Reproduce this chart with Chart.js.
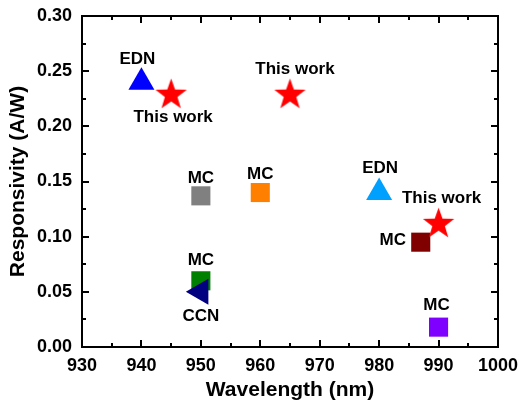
<!DOCTYPE html>
<html>
<head>
<meta charset="utf-8">
<script src="https://cdn.jsdelivr.net/npm/chart.js@4/dist/chart.umd.min.js"></script>
<style>
  html, body { margin: 0; padding: 0; background: #fff; }
  #wrap { width: 519px; height: 408px; }
</style>
</head>
<body>
<div id="wrap"><canvas id="c" width="519" height="408"></canvas></div>
<script>
// Responsivity of reported photodetectors versus operating wavelength
const wavelengths  = [950, 960, 987, 990, 950, 950, 940, 980, 945, 965, 990];
const responsivity = [0.137, 0.14, 0.095, 0.018, 0.06, 0.05, 0.24, 0.14, 0.23, 0.23, 0.113];
const pointLabels  = ['MC', 'MC', 'MC', 'MC', 'MC', 'CCN', 'EDN', 'EDN', 'This work', 'This work', 'This work'];
const xTickValues  = [930, 940, 950, 960, 970, 980, 990, 1000];
const yTickValues  = [0.00, 0.05, 0.10, 0.15, 0.20, 0.25, 0.30];

// Marker styling, one entry per point
const markerColors = ['#808080', '#FF8000', '#800000', '#8000FF', '#008000', '#000080',
                      '#0000FF', '#00A0FF', '#FF0000', '#FF0000', '#FF0000'];
const markerKinds  = ['rect', 'rect', 'rect', 'rect', 'rect', 'triangle',
                      'triangle', 'triangle', 'star', 'star', 'star'];
const markerTurn   = [0, 0, 0, 0, 0, 270, 0, 0, 0, 0, 0];
// Label offsets from the marker centre (px)
const labelShift   = [[0, -18], [0, -18], [-28, -2], [-2, -22], [0, -20], [0, 24],
                      [-4, -23], [1, -24], [2, 24], [5, -24], [3, -24]];

const FONT = '"Liberation Sans", Arial, Helvetica, sans-serif';

// Filled five-pointed star sprite
function makeStar(color, outer) {
  const inner = outer * 0.4;
  const size = Math.ceil(outer * 2 + 2);
  const cv = document.createElement('canvas');
  cv.width = size; cv.height = size;
  const g = cv.getContext('2d');
  const cx = size / 2, cy = size / 2 + outer * 0.1;
  g.beginPath();
  for (let i = 0; i < 10; i++) {
    const r = i % 2 === 0 ? outer : inner;
    const a = -Math.PI / 2 + i * Math.PI / 5;
    const px = cx + r * Math.cos(a), py = cy + r * Math.sin(a);
    if (i === 0) g.moveTo(px, py); else g.lineTo(px, py);
  }
  g.closePath();
  g.fillStyle = color;
  g.fill();
  return cv;
}

const starSprite = makeStar('#FF0000', 16.5);
const pointStyles = markerKinds.map(k => k === 'star' ? starSprite : k);
const pointRadii = markerKinds.map(k => k === 'rect' ? 13.5 : (k === 'triangle' ? 15 : 16));

// Closed frame with inward major/minor ticks on all four sides
const framePlugin = {
  id: 'frame',
  afterDatasetsDraw(chart) {
    const { ctx, chartArea: a, scales: { x, y } } = chart;
    ctx.save();
    ctx.strokeStyle = '#000';
    ctx.lineWidth = 2;
    ctx.beginPath();
    const major = 7, minor = 4;
    xTickValues.forEach((v, i) => {
      const px = Math.round(x.getPixelForValue(v));
      ctx.moveTo(px, a.bottom); ctx.lineTo(px, a.bottom - major);
      ctx.moveTo(px, a.top); ctx.lineTo(px, a.top + major);
      if (i < xTickValues.length - 1) {
        const m = Math.round(x.getPixelForValue((v + xTickValues[i + 1]) / 2));
        ctx.moveTo(m, a.bottom); ctx.lineTo(m, a.bottom - minor);
        ctx.moveTo(m, a.top); ctx.lineTo(m, a.top + minor);
      }
    });
    yTickValues.forEach((v, i) => {
      const py = Math.round(y.getPixelForValue(v));
      ctx.moveTo(a.left, py); ctx.lineTo(a.left + major, py);
      ctx.moveTo(a.right, py); ctx.lineTo(a.right - major, py);
      if (i < yTickValues.length - 1) {
        const m = Math.round(y.getPixelForValue((v + yTickValues[i + 1]) / 2));
        ctx.moveTo(a.left, m); ctx.lineTo(a.left + minor, m);
        ctx.moveTo(a.right, m); ctx.lineTo(a.right - minor, m);
      }
    });
    ctx.stroke();
    ctx.strokeRect(a.left, a.top, a.right - a.left, a.bottom - a.top);
    ctx.restore();
  }
};

// Text annotations next to each marker
const labelPlugin = {
  id: 'pointText',
  afterDatasetsDraw(chart) {
    const { ctx } = chart;
    const meta = chart.getDatasetMeta(0);
    ctx.save();
    ctx.font = 'bold 17px ' + FONT;
    ctx.fillStyle = '#000';
    ctx.textAlign = 'center';
    ctx.textBaseline = 'middle';
    meta.data.forEach((pt, i) => {
      const [dx, dy] = labelShift[i];
      ctx.fillText(pointLabels[i], pt.x + dx, pt.y + dy);
    });
    ctx.restore();
  }
};

new Chart(document.getElementById('c'), {
  type: 'scatter',
  data: {
    datasets: [{
      data: wavelengths.map((w, i) => ({ x: w, y: responsivity[i] })),
      backgroundColor: markerColors,
      borderColor: markerColors,
      borderWidth: 0,
      pointStyle: pointStyles,
      pointRadius: pointRadii,
      pointHoverRadius: pointRadii,
      rotation: markerTurn
    }]
  },
  options: {
    responsive: false,
    animation: false,
    events: [],
    layout: { padding: { top: 8, right: 21, left: 0, bottom: 0 } },
    plugins: { legend: { display: false }, tooltip: { enabled: false } },
    scales: {
      x: {
        type: 'linear',
        min: 930, max: 1000,
        afterBuildTicks(s) { s.ticks = xTickValues.map(v => ({ value: v })); },
        afterFit(s) { s.height = 61; s.paddingLeft = 0; s.paddingRight = 0; },
        grid: { display: false, drawTicks: false },
        border: { display: false },
        ticks: {
          padding: 8,
          color: '#000',
          font: { family: FONT, size: 18, weight: 'bold' },
          callback: v => String(v)
        },
        title: {
          display: true,
          text: 'Wavelength (nm)',
          color: '#000',
          font: { family: FONT, size: 21, weight: 'bold' },
          padding: { top: 0, bottom: 5 }
        }
      },
      y: {
        type: 'linear',
        min: 0, max: 0.30,
        afterBuildTicks(s) { s.ticks = yTickValues.map(v => ({ value: v })); },
        afterFit(s) { s.width = 82; s.paddingTop = 0; s.paddingBottom = 0; },
        grid: { display: false, drawTicks: false },
        border: { display: false },
        ticks: {
          padding: 10,
          color: '#000',
          font: { family: FONT, size: 18, weight: 'bold' },
          callback: v => v.toFixed(2)
        },
        title: {
          display: true,
          text: 'Responsivity (A/W)',
          color: '#000',
          font: { family: FONT, size: 21, weight: 'bold' },
          padding: { top: 6, bottom: 0 }
        }
      }
    }
  },
  plugins: [framePlugin, labelPlugin]
});
</script>
</body>
</html>
